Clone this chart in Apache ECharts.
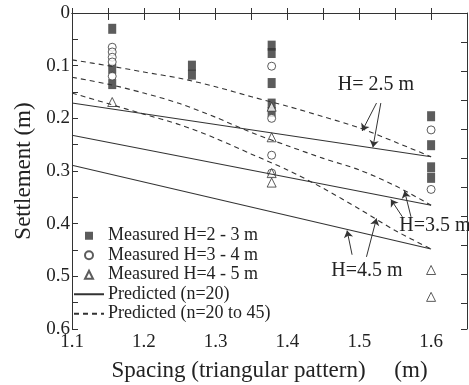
<!DOCTYPE html>
<html>
<head>
<meta charset="utf-8">
<script src="https://cdn.jsdelivr.net/npm/echarts@6/dist/echarts.min.js"></script>
<style>
  html, body { margin: 0; padding: 0; background: #fff; }
  #chart { width: 469px; height: 385px; }
</style>
</head>
<body>
<div id="chart"></div>
<script>
// measured settlements [spacing (m), settlement (m)]
var measuredH23 = [
  [1.156, 0.030], [1.156, 0.106], [1.156, 0.135],
  [1.267, 0.100], [1.267, 0.117],
  [1.378, 0.062], [1.378, 0.076], [1.378, 0.133], [1.378, 0.172], [1.378, 0.188],
  [1.6, 0.196], [1.6, 0.251], [1.6, 0.293], [1.6, 0.313]
];
var measuredH34 = [
  [1.156, 0.065], [1.156, 0.074], [1.156, 0.084], [1.156, 0.093], [1.156, 0.120],
  [1.378, 0.101], [1.378, 0.200], [1.378, 0.270], [1.378, 0.304],
  [1.6, 0.222], [1.6, 0.335]
];
var measuredH45 = [
  [1.156, 0.169],
  [1.378, 0.178], [1.378, 0.236], [1.378, 0.304], [1.378, 0.322],
  [1.6, 0.488], [1.6, 0.539]
];

// predicted (n=20) - straight lines
var xPred = [1.1, 1.6];
var predH25 = [0.171, 0.273];
var predH35 = [0.232, 0.365];
var predH45 = [0.289, 0.448];

// predicted (n=20 to 45) - curves
var xDash = [1.1, 1.15, 1.2, 1.25, 1.3, 1.35, 1.4, 1.45, 1.5, 1.55, 1.6];
var dashH25 = [0.089, 0.100, 0.112, 0.124, 0.140, 0.159, 0.177, 0.197, 0.218, 0.245, 0.273];
var dashH35 = [0.122, 0.135, 0.152, 0.172, 0.198, 0.227, 0.252, 0.276, 0.298, 0.328, 0.365];
var dashH45 = [0.152, 0.172, 0.192, 0.212, 0.238, 0.268, 0.298, 0.333, 0.372, 0.413, 0.448];

// annotation arrows [from, to] in data units
var arrows = [
  [[1.524, 0.171], [1.504, 0.224]],
  [[1.530, 0.171], [1.519, 0.255]],
  [[1.560, 0.387], [1.544, 0.354]],
  [[1.572, 0.387], [1.563, 0.338]],
  [[1.490, 0.459], [1.483, 0.413]],
  [[1.510, 0.463], [1.524, 0.390]]
];

var ink = '#333';
var serif = 'Liberation Serif';

function pairs(xs, ys) {
  return xs.map(function (x, i) { return [x, ys[i]]; });
}

var chart = echarts.init(document.getElementById('chart'));

function solidLine(ys, withArrows) {
  var s = {
    name: 'Predicted (n=20)',
    type: 'line',
    data: pairs(xPred, ys),
    symbol: 'none',
    lineStyle: { color: ink, width: 1.1 },
    itemStyle: { color: ink },
    silent: true
  };
  if (withArrows) {
    s.markLine = {
      silent: true,
      symbol: ['none', 'arrow'],
      symbolSize: 7,
      label: { show: false },
      lineStyle: { color: ink, width: 1, type: 'solid' },
      data: arrows.map(function (a) {
        return [{ coord: a[0] }, { coord: a[1] }];
      })
    };
  }
  return s;
}

function dashLine(ys) {
  return {
    name: 'Predicted (n=20 to 45)',
    type: 'line',
    data: pairs(xDash, ys),
    symbol: 'none',
    smooth: 0.3,
    lineStyle: { color: ink, width: 1.1, type: [5, 4] },
    itemStyle: { color: ink },
    silent: true
  };
}

var legendText = { fontFamily: serif, fontSize: 18, color: '#222', lineHeight: 19.5 };
var noteFont = '20px "Liberation Serif"';

var option = {
  backgroundColor: '#fff',
  animation: false,
  grid: { left: 72, right: 2, top: 13, bottom: 56, outerBoundsMode: 'none' },
  legend: [{
    orient: 'vertical',
    left: 84,
    top: 226,
    padding: 0,
    itemGap: 0,
    itemWidth: 8,
    itemHeight: 8,
    textStyle: Object.assign({ padding: [0, 0, 0, 10] }, legendText),
    selectedMode: false,
    data: ['Measured H=2 - 3 m', 'Measured H=3 - 4 m', 'Measured H=4 - 5 m']
  }, {
    orient: 'vertical',
    left: 73,
    top: 284.5,
    padding: 0,
    itemGap: 0,
    itemWidth: 30,
    itemHeight: 8,
    textStyle: Object.assign({ padding: [0, 0, 0, -1] }, legendText),
    selectedMode: false,
    data: [
      { name: 'Predicted (n=20)', itemStyle: { opacity: 0 } },
      { name: 'Predicted (n=20 to 45)', itemStyle: { opacity: 0 } }
    ]
  }],
  xAxis: [{
    type: 'value',
    min: 1.1,
    max: 1.65,
    interval: 0.05,
    name: 'Spacing (triangular pattern)     (m)',
    nameLocation: 'middle',
    nameGap: 30,
    nameTextStyle: { fontFamily: serif, fontSize: 23, color: '#222' },
    axisLine: { lineStyle: { color: ink, width: 1 } },
    axisTick: { inside: true, length: 5, lineStyle: { color: ink } },
    splitLine: { show: false },
    axisLabel: {
      fontFamily: serif, fontSize: 19, color: '#222', margin: 4,
      showMaxLabel: false,
      formatter: function (v) {
        return Math.round(v * 100) % 10 === 0 ? v.toFixed(1) : '';
      }
    }
  }, {
    type: 'value',
    position: 'top',
    min: 1.1,
    max: 1.65,
    interval: 0.05,
    axisLine: { lineStyle: { color: ink, width: 1 } },
    axisTick: { inside: true, length: 7, lineStyle: { color: ink } },
    splitLine: { show: false },
    axisLabel: { show: false }
  }],
  yAxis: [{
    type: 'value',
    inverse: true,
    min: 0,
    max: 0.6,
    interval: 0.05,
    name: 'Settlement (m)',
    nameLocation: 'middle',
    nameGap: 36,
    nameTextStyle: { fontFamily: serif, fontSize: 23, color: '#222' },
    axisLine: { lineStyle: { color: ink, width: 1 } },
    axisTick: { inside: true, length: 6, lineStyle: { color: ink } },
    splitLine: { show: false },
    axisLabel: {
      fontFamily: serif, fontSize: 19, color: '#222', margin: 2,
      formatter: function (v) {
        if (v === 0) return '0';
        return Math.round(v * 100) % 10 === 0 ? v.toFixed(1) : '';
      }
    }
  }, {
    type: 'value',
    inverse: true,
    position: 'right',
    min: 0,
    max: 0.545,
    interval: 0.05,
    axisLine: { lineStyle: { color: ink, width: 1 } },
    axisTick: { inside: true, length: 6, lineStyle: { color: ink } },
    splitLine: { show: false },
    axisLabel: { show: false }
  }],
  graphic: [
    { type: 'text', x: 376, y: 85, style: { text: 'H= 2.5 m', font: noteFont, fill: '#222', align: 'center', verticalAlign: 'middle' } },
    { type: 'text', x: 435, y: 226, style: { text: 'H=3.5 m', font: noteFont, fill: '#222', align: 'center', verticalAlign: 'middle' } },
    { type: 'text', x: 367, y: 271, style: { text: 'H=4.5 m', font: noteFont, fill: '#222', align: 'center', verticalAlign: 'middle' } }
  ],
  series: [
    solidLine(predH25, true),
    solidLine(predH35, false),
    solidLine(predH45, false),
    dashLine(dashH25),
    dashLine(dashH35),
    dashLine(dashH45),
    {
      name: 'Measured H=2 - 3 m',
      type: 'scatter',
      data: measuredH23,
      symbol: 'rect',
      symbolSize: [8, 10],
      itemStyle: { color: ink }
    },
    {
      name: 'Measured H=3 - 4 m',
      type: 'scatter',
      data: measuredH34,
      symbol: 'circle',
      symbolSize: 8,
      itemStyle: { color: '#fff', borderColor: ink, borderWidth: 1 }
    },
    {
      name: 'Measured H=4 - 5 m',
      type: 'scatter',
      data: measuredH45,
      symbol: 'triangle',
      symbolSize: 9,
      itemStyle: { color: '#fff', borderColor: ink, borderWidth: 1 }
    }
  ]
};

chart.setOption(option);
</script>
</body>
</html>
